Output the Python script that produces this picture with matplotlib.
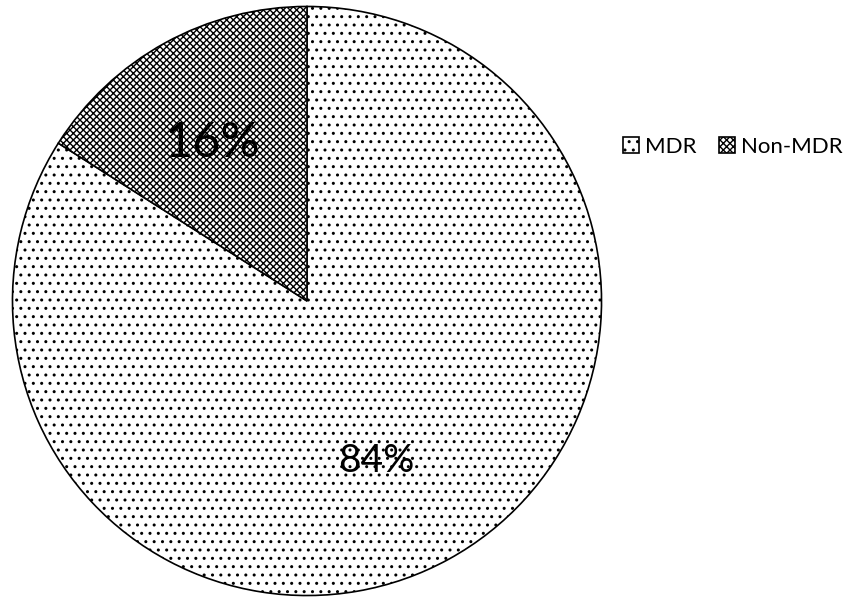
import matplotlib.pyplot as plt

# Данные
labels = ['MDR', 'Non-MDR']
values = [84, 16]
hatches = ['..', 'xxxxx']
pct_labels = ['84%', '16%']

plt.rcParams['font.family'] = ['Lato', 'DejaVu Sans']
plt.rcParams['hatch.linewidth'] = 1.0

fig = plt.figure(figsize=(8.47, 6), dpi=100)
ax = fig.add_axes([11 / 847, 3 / 600, 592 / 847, 592 / 600])

wedges, _ = ax.pie(values, startangle=90, counterclock=False,
                   colors=['white', 'white'],
                   wedgeprops=dict(edgecolor='black', linewidth=1.2))
for w, h in zip(wedges, hatches):
    w.set_hatch(h)

ax.set_xlim(-1.005, 1.005)
ax.set_ylim(-1.005, 1.005)
ax.set_aspect('equal')

# Подписи процентов
ax.text(0.236, -0.544, pct_labels[0], fontsize=28, ha='center', va='center')
ax.text(-0.32, 0.537, pct_labels[1], fontsize=35, ha='center', va='center')

fig.legend(wedges, labels, loc='center left', bbox_to_anchor=(603 / 847, 1 - 147 / 600),
           ncol=2, frameon=False, fontsize=16, handlelength=0.7, handleheight=0.7,
           handletextpad=0.3, columnspacing=1.0)

fig.savefig('out.png', dpi=100)
